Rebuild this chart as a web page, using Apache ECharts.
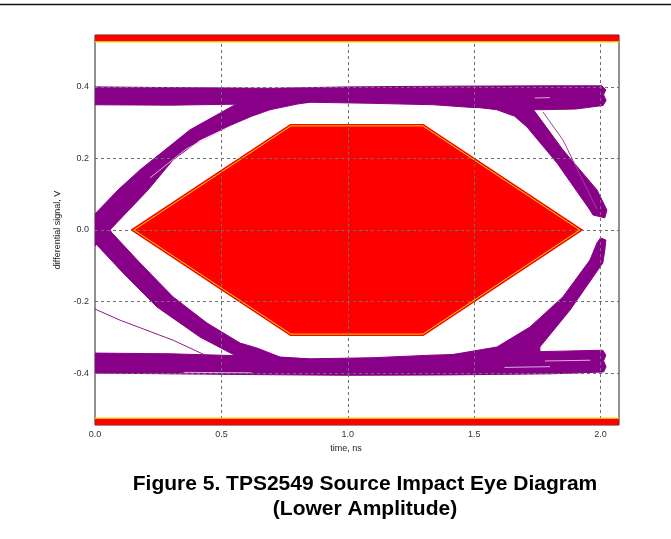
<!DOCTYPE html>
<html>
<head>
<meta charset="utf-8">
<script src="https://cdn.jsdelivr.net/npm/echarts@6/dist/echarts.min.js"></script>
<style>
  html, body { margin: 0; padding: 0; background: #fff; }
  #chart { width: 671px; height: 539px; }
</style>
</head>
<body>
<div id="chart"></div>
<script>
// Axis extents and tick positions
const xRange = [0, 2.073];
const yRange = [-0.545, 0.545];
const xTicks = [0.0, 0.5, 1.0, 1.5, 2.0];
const yTicks = [-0.4, -0.2, 0.0, 0.2, 0.4];

// Exclusion limits above/below the eye (V)
const maskLimit = 0.526;

// Eye-opening mask hexagon (time ns, V)
const eyeMask = [[0.154, 0], [0.775, 0.291], [1.297, 0.291], [1.918, 0], [1.297, -0.291], [0.775, -0.291]];

// Persistence envelopes of the captured traces (time ns, V)
const topRail = [[0, 0.400], [0.30, 0.398], [0.70, 0.396], [1.00, 0.400], [1.40, 0.402], [1.80, 0.403], [2.005, 0.403],
  [2.021, 0.392], [2.012, 0.378], [2.022, 0.362], [2.010, 0.348], [1.90, 0.338], [1.75, 0.336], [1.60, 0.340],
  [1.48, 0.343], [1.34, 0.350], [1.10, 0.354], [0.85, 0.357], [0.60, 0.352], [0.30, 0.349], [0, 0.350]];
const riseLeft = [[0, 0.045], [0.091, 0.112], [0.178, 0.168], [0.376, 0.280], [0.554, 0.350], [0.70, 0.360], [0.85, 0.357],
  [0.80, 0.352], [0.692, 0.336], [0.62, 0.318], [0.534, 0.292], [0.415, 0.252], [0.309, 0.196], [0.210, 0.112],
  [0.059, 0], [0, -0.045]];
const fallRight = [[1.48, 0.346], [1.76, 0.346], [1.733, 0.338], [1.851, 0.224], [1.986, 0.112], [2.025, 0.056],
  [2.017, 0.034], [1.970, 0.042], [1.958, 0.056], [1.828, 0.187], [1.709, 0.288], [1.66, 0.318], [1.59, 0.336]];
const fallLeft = [[0, 0.045], [0.059, 0], [0.067, -0.008], [0.178, -0.092], [0.309, -0.187], [0.443, -0.260],
  [0.574, -0.316], [0.641, -0.330], [0.732, -0.355], [0.85, -0.361], [0.85, -0.375], [0.70, -0.372],
  [0.574, -0.358], [0.415, -0.299], [0.245, -0.215], [0.111, -0.120], [0, -0.036]];
const botRail = [[0, -0.344], [0.30, -0.346], [0.60, -0.352], [0.85, -0.360], [1.10, -0.357], [1.325, -0.350],
  [1.76, -0.340], [2.009, -0.336], [2.021, -0.350], [2.012, -0.366], [2.022, -0.382], [2.012, -0.397],
  [1.80, -0.402], [1.40, -0.405], [1.00, -0.406], [0.60, -0.404], [0.30, -0.402], [0, -0.400]];
const riseRight = [[1.40, -0.350], [1.59, -0.327], [1.721, -0.271], [1.851, -0.187], [1.958, -0.084], [1.986, -0.036],
  [2.0, -0.022], [2.021, -0.028], [2.017, -0.056], [2.009, -0.092], [1.879, -0.224], [1.76, -0.327],
  [1.76, -0.345], [1.40, -0.358]];

// Individual outlier traces
const strayTrace = [[0, -0.221], [0.099, -0.252], [0.309, -0.308], [0.443, -0.352]];
const edgeTrace = [[1.772, 0.330], [1.851, 0.252], [1.986, 0.058]];
// Sparse gaps inside the persistence bands
const gapTraces = [
  [[0.218, 0.146], [0.36, 0.226], [0.52, 0.284]],
  [[1.74, 0.369], [1.80, 0.370]],
  [[1.62, -0.384], [1.80, -0.382]],
  [[1.78, -0.366], [1.96, -0.364]],
  [[0.35, -0.398], [0.62, -0.399]]
];

const TRACE = '#880088';
const MASK_RED = '#ff0000';
const MASK_EDGE = '#ece000';
const FONT = 'Liberation Sans, Arial, sans-serif';

function shapeSeries(name, pts, z, styleFn) {
  return {
    type: 'custom',
    name: name,
    coordinateSystem: 'cartesian2d',
    silent: true,
    clip: true,
    z: z,
    data: [[0, 0]],
    renderItem: function (params, api) {
      return styleFn(pts.map(function (p) { return api.coord(p); }));
    }
  };
}

function filled(color) {
  return function (points) {
    return { type: 'polygon', shape: { points: points }, style: { fill: color, stroke: color, lineWidth: 1 } };
  };
}

function maskShape(points) {
  return {
    type: 'group',
    children: [
      { type: 'polygon', shape: { points: points }, style: { fill: MASK_RED, stroke: MASK_RED, lineWidth: 4, lineJoin: 'miter' } },
      { type: 'polygon', shape: { points: points }, style: { fill: null, stroke: MASK_EDGE, lineWidth: 1 } }
    ]
  };
}

function limitBand(pts) {
  return {
    type: 'group',
    children: [
      { type: 'polygon', shape: { points: pts }, style: { fill: MASK_RED, stroke: null } },
      { type: 'polyline', shape: { points: [pts[0], pts[1]] }, style: { stroke: MASK_EDGE, lineWidth: 1.2, fill: null } }
    ]
  };
}

function traceLine(name, pts, color, width, z) {
  return {
    type: 'line', name: name, data: pts, showSymbol: false, silent: true, z: z,
    lineStyle: { color: color, width: width }
  };
}

const topBand = [[xRange[0], maskLimit], [xRange[1], maskLimit], [xRange[1], yRange[1]], [xRange[0], yRange[1]]];
const bottomBand = [[xRange[0], -maskLimit], [xRange[1], -maskLimit], [xRange[1], yRange[0]], [xRange[0], yRange[0]]];

const gridLineStyle = { color: '#707070', width: 1, type: [3, 3] };

const chart = echarts.init(document.getElementById('chart'), null, { renderer: 'canvas' });

const series = [
  {
    type: 'line', name: 'grid', data: [], silent: true, z: 1,
    markLine: {
      silent: true, symbol: ['none', 'none'], animation: false,
      label: { show: false },
      lineStyle: gridLineStyle,
      data: xTicks.filter(function (t) { return t > 0; }).map(function (t) { return { xAxis: t }; })
        .concat(yTicks.map(function (t) { return { yAxis: t }; }))
    }
  },
  shapeSeries('top rail', topRail, 3, filled(TRACE)),
  shapeSeries('rising edge', riseLeft, 3, filled(TRACE)),
  shapeSeries('falling edge', fallRight, 3, filled(TRACE)),
  shapeSeries('falling edge 2', fallLeft, 3, filled(TRACE)),
  shapeSeries('bottom rail', botRail, 3, filled(TRACE)),
  shapeSeries('rising edge 2', riseRight, 3, filled(TRACE)),
  traceLine('outlier', strayTrace, '#8e1c8e', 1, 3),
  traceLine('outlier 2', edgeTrace, '#a040a0', 1, 3)
];
gapTraces.forEach(function (g, i) {
  series.push(traceLine('gap ' + i, g, 'rgba(235,200,235,0.85)', 1, 3.5));
});
series.push(
  shapeSeries('eye mask', eyeMask, 4, maskShape),
  shapeSeries('upper limit', topBand, 5, limitBand),
  shapeSeries('lower limit', bottomBand, 5, limitBand)
);

chart.setOption({
  backgroundColor: '#ffffff',
  animation: false,
  grid: {
    left: 95, right: 52, top: 35, bottom: 114,
    show: true, borderColor: '#222', borderWidth: 1, backgroundColor: 'transparent'
  },
  xAxis: {
    type: 'value',
    min: xRange[0], max: xRange[1], interval: 0.5,
    name: 'time, ns', nameLocation: 'middle', nameGap: 14,
    nameTextStyle: { fontFamily: FONT, fontSize: 9, color: '#222', padding: [0, 22, 0, 0] },
    axisLine: { show: false },
    axisTick: { show: false },
    splitLine: { show: false },
    axisLabel: {
      margin: 5, fontFamily: FONT, fontSize: 9, color: '#333',
      formatter: function (v) {
        return xTicks.some(function (t) { return Math.abs(t - v) < 1e-6; }) ? v.toFixed(1) : '';
      }
    }
  },
  yAxis: {
    type: 'value',
    min: yRange[0], max: yRange[1],
    name: 'differential signal, V', nameLocation: 'middle', nameGap: 33,
    nameTextStyle: { fontFamily: FONT, fontSize: 9, color: '#222' },
    axisLine: { show: false },
    axisTick: { show: false },
    splitLine: { show: false },
    axisLabel: {
      margin: 6, fontFamily: FONT, fontSize: 9, color: '#333',
      customValues: yTicks,
      formatter: function (v) { return v.toFixed(1); }
    }
  },
  series: series,
  graphic: [
    { type: 'line', shape: { x1: 0, y1: 4.5, x2: 671, y2: 4.5 }, style: { stroke: '#111', lineWidth: 1.5 }, silent: true },
    {
      type: 'text', x: 365, y: 484, silent: true,
      style: { text: 'Figure 5. TPS2549 Source Impact Eye Diagram', fill: '#000', font: 'bold 21px ' + FONT, align: 'center', verticalAlign: 'middle' }
    },
    {
      type: 'text', x: 365, y: 509, silent: true,
      style: { text: '(Lower Amplitude)', fill: '#000', font: 'bold 21px ' + FONT, align: 'center', verticalAlign: 'middle' }
    }
  ]
});
</script>
</body>
</html>
